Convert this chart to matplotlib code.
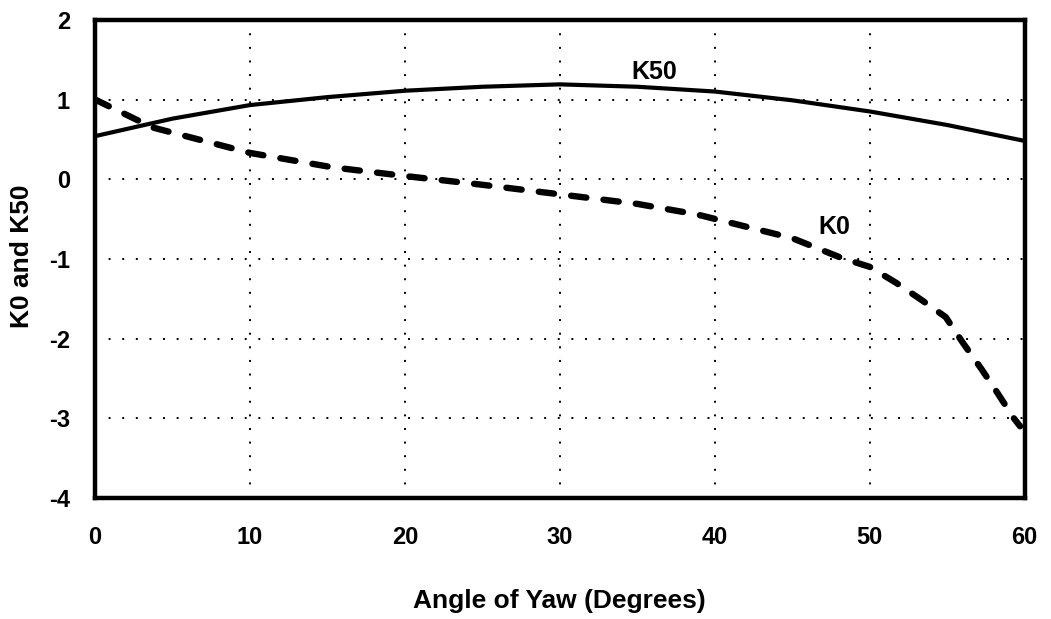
import matplotlib.pyplot as plt

# Yaw angle (degrees) and the two coefficients
yaw_k50 = [0, 5, 10, 15, 20, 25, 30, 35, 40, 45, 50, 55, 60]
k50 = [0.54, 0.76, 0.93, 1.03, 1.11, 1.16, 1.19, 1.16, 1.10, 0.99, 0.85, 0.68, 0.48]

yaw_k0 = [0, 3.7, 10, 15.3, 20, 25, 30, 35, 38.8, 45, 48.2, 50, 51.7, 53.3, 54.9, 56, 57.2, 58.2, 59.3, 59.7]
k0 = [1.0, 0.65, 0.33, 0.15, 0.04, -0.07, -0.19, -0.31, -0.44, -0.74, -0.99, -1.10, -1.30, -1.51, -1.73, -2.05, -2.38, -2.67, -3.0, -3.1]

x_ticks = [0, 10, 20, 30, 40, 50, 60]
y_ticks = [-4, -3, -2, -1, 0, 1, 2]

plt.rcParams["font.family"] = ["Liberation Sans", "DejaVu Sans"]
plt.rcParams["font.weight"] = "bold"

fig = plt.figure(figsize=(10.51, 6.19), dpi=100)
ax = fig.add_axes([0.0904, 0.1955, 0.8846, 0.7725])

ax.plot(yaw_k50, k50, color="black", linewidth=3.0, solid_capstyle="butt")
ax.plot(yaw_k0, k0, color="black", linewidth=4.6, linestyle=(0, (2.4, 2.7)),
        dash_capstyle="round")

ax.text(36.1, 1.35, "K50", fontsize=18, fontweight="bold", ha="center", va="center")
ax.text(47.7, -0.6, "K0", fontsize=18, fontweight="bold", ha="center", va="center")

ax.set_xlim(0, 60)
ax.set_ylim(-4, 2)
ax.set_xticks(x_ticks)
ax.set_yticks(y_ticks)
ax.set_xticklabels([str(v) for v in x_ticks])
ax.set_yticklabels([str(v) for v in y_ticks])
ax.tick_params(axis="both", length=0, labelsize=17)
ax.tick_params(axis="x", pad=20)
ax.tick_params(axis="y", pad=18)

ax.grid(True, color="black", linestyle=(0, (1, 6)), linewidth=1.4)
for spine in ax.spines.values():
    spine.set_linewidth(3.2)

ax.set_xlabel("Angle of Yaw (Degrees)", fontsize=19, fontweight="bold", va="top")
ax.xaxis.set_label_coords(0.5, -0.19)
ax.set_ylabel("K0 and K50", fontsize=19, fontweight="bold")
ax.yaxis.set_label_coords(-0.066, 0.505)

fig.savefig("out.png", dpi=100, facecolor="white")
